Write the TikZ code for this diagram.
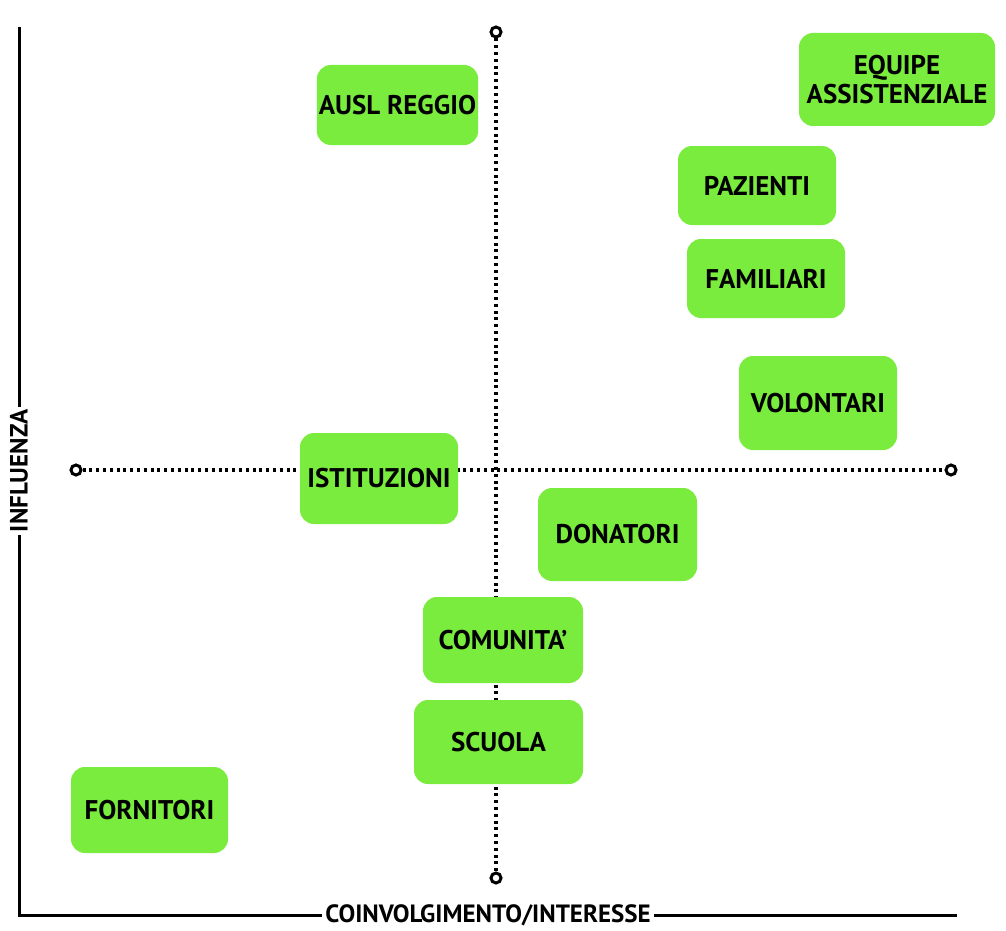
\documentclass[tikz,border=0pt]{standalone}
\usepackage{fontspec}
\setmainfont{PT Sans}
\usepackage{tikz}
\usetikzlibrary{positioning}

\definecolor{stakegreen}{RGB}{122,236,62}

\begin{document}
\begin{tikzpicture}[x=1pt, y=-1pt, semithick,
  font=\bfseries\fontsize{27}{29}\selectfont]
  \tikzstyle{stake}=[fill=stakegreen,draw=none,rounded corners=14pt,text=black,
                     minimum width=158pt,minimum height=80pt,align=center,inner sep=2pt]
  \tikzstyle{endpt}=[circle,draw=black,fill=white,line width=3pt,inner sep=0pt,minimum size=10pt]
  \tikzstyle{quad}=[line width=3.4pt,dash pattern=on 3pt off 3.8pt]
  \tikzstyle{axis}=[line width=3pt]
  \tikzstyle{axlabel}=[fill=white,inner sep=3pt,font=\bfseries\fontsize{25}{27}\selectfont]

  \useasboundingbox (0,0) rectangle (1006,931);

  % main axes
  \coordinate (O) at (19,915);
  \coordinate (Ytop) at (19,27);
  \coordinate (Xend) at (957,915);
  \draw[axis] (Ytop) -- node[axlabel,rotate=90] {INFLUENZA} (O)
              -- node[axlabel] {COINVOLGIMENTO/INTERESSE} (Xend);

  % quadrant lines
  \node[endpt] (vtop) at (496,32) {};
  \node[endpt] (vbot) at (496,878) {};
  \node[endpt] (hleft) at (76,470) {};
  \node[endpt] (hright) at (951,470) {};
  \draw[quad] (vtop) -- (vbot);
  \draw[quad] (hleft) -- (hright);

  % stakeholders
  \node[stake] (ausl) at (397.5,105) {AUSL REGGIO};
  \node[stake,minimum width=196pt,minimum height=93pt] (equipe) at (897,79.5) {EQUIPE\\ASSISTENZIALE};
  \node[stake,minimum height=79pt] (paz) at (757,185.5) {PAZIENTI};
  \node[stake,minimum height=79pt] (fam) at (766,278.5) {FAMILIARI};
  \node[stake,minimum height=94pt] (vol) at (818,403) {VOLONTARI};
  \node[stake,minimum height=91pt] (ist) at (379,478.5) {ISTITUZIONI};
  \node[stake,minimum width=159pt,minimum height=93pt] (don) at (617.5,534.5) {DONATORI};
  \node[stake,minimum width=160pt,minimum height=86pt] (com) at (503,640) {COMUNITA'};
  \node[stake,minimum width=169pt,minimum height=84pt] (scu) at (498.5,742) {SCUOLA};
  \node[stake,minimum width=157pt,minimum height=86pt] (forn) at (149.5,810) {FORNITORI};
\end{tikzpicture}
\end{document}
